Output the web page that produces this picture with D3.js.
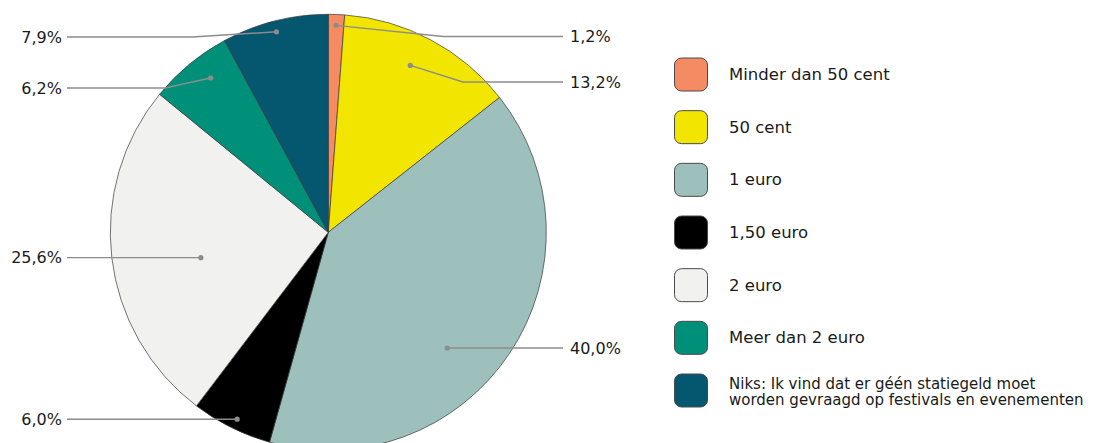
<!DOCTYPE html>
<html>
<head>
<meta charset="utf-8">
<script src="https://cdn.jsdelivr.net/npm/d3@7"></script>
<style>
  html, body { margin: 0; padding: 0; background: #fff; }
  svg { display: block; }
  text { font-family: "DejaVu Sans", Verdana, sans-serif; fill: #1a1a1a; }
</style>
</head>
<body>
<svg id="chart" width="1100" height="443"></svg>
<script>
// Statiegeld op bekers: verdeling van de antwoorden (procenten)
const categories = [
  "Minder dan 50 cent",
  "50 cent",
  "1 euro",
  "1,50 euro",
  "2 euro",
  "Meer dan 2 euro",
  "Niks: Ik vind dat er géén statiegeld moet worden gevraagd op festivals en evenementen"
];
const values = [1.2, 13.2, 40.0, 6.0, 25.6, 6.2, 7.9];
const valueLabels = ["1,2%", "13,2%", "40,0%", "6,0%", "25,6%", "6,2%", "7,9%"];
const legendLines = [
  ["Minder dan 50 cent"],
  ["50 cent"],
  ["1 euro"],
  ["1,50 euro"],
  ["2 euro"],
  ["Meer dan 2 euro"],
  ["Niks: Ik vind dat er géén statiegeld moet", "worden gevraagd op festivals en evenementen"]
];
const colors = ["#F48B62", "#F2E600", "#9DC0BC", "#000000", "#F1F1EF", "#009079", "#05566F"];

// Leader layout: position of the anchor dot inside each slice
// (t = fraction along the slice's angle, r = fraction of the radius),
// the label row and the x where the leader bends to horizontal.
const leaderLayout = [
  { t: 0.50, r: 0.95, labelY: 36.5, elbowX: 443 },
  { t: 0.46, r: 0.853, labelY: 82, elbowX: 463 },
  { t: 0.573, r: 0.761, labelY: null, elbowX: null },
  { t: 0.48, r: 0.954, labelY: null, elbowX: null },
  { t: 0.451, r: 0.596, labelY: null, elbowX: null },
  { t: 0.60, r: 0.89, labelY: 88, elbowX: 165 },
  { t: 0.49, r: 0.95, labelY: 37, elbowX: 192 }
];

const svg = d3.select("#chart");
const cx = 328.3, cy = 232.3, R = 218;
const leftLineX = 67, leftTextX = 62, rightLineX = 563, rightTextX = 570;

const data = categories.map((c, i) => ({ category: c, value: values[i], i }));

const pie = d3.pie().sort(null).value(d => d.value).startAngle(0).endAngle(2 * Math.PI);
const arcs = pie(data);
const arc = d3.arc().innerRadius(0).outerRadius(R);

const g = svg.append("g").attr("transform", `translate(${cx},${cy})`);

g.selectAll("path.slice")
  .data(arcs)
  .join("path")
  .attr("class", "slice")
  .attr("d", arc)
  .attr("fill", d => colors[d.data.i])
  .attr("stroke", "#3a3a3a")
  .attr("stroke-width", 0.7)
  .attr("stroke-linejoin", "round");

// Leader lines and value labels
const leaders = svg.append("g");
arcs.forEach(a => {
  const L = leaderLayout[a.data.i];
  const ang = a.startAngle + L.t * (a.endAngle - a.startAngle);
  const px = cx + Math.sin(ang) * R * L.r;
  const py = cy - Math.cos(ang) * R * L.r;
  const right = Math.sin(ang) >= 0;
  const ly = L.labelY == null ? py : L.labelY;
  const ex = L.elbowX == null ? px : L.elbowX;
  const endX = right ? rightLineX : leftLineX;
  leaders.append("path")
    .attr("d", `M${px},${py}L${ex},${ly}L${endX},${ly}`)
    .attr("fill", "none")
    .attr("stroke", "#8c8c8c")
    .attr("stroke-width", 1.4);
  leaders.append("circle")
    .attr("cx", px).attr("cy", py).attr("r", 2.6)
    .attr("fill", "#8c8c8c");
  leaders.append("text")
    .attr("x", right ? rightTextX : leftTextX)
    .attr("y", ly)
    .attr("dy", "0.36em")
    .attr("text-anchor", right ? "start" : "end")
    .style("font-size", "16px")
    .text(valueLabels[a.data.i]);
});

// Legend
const legendY = d3.scalePoint().domain(d3.range(categories.length)).range([74.5, 390.5]);
const legend = svg.append("g");
const items = legend.selectAll("g.item")
  .data(data)
  .join("g")
  .attr("class", "item")
  .attr("transform", d => `translate(0,${legendY(d.i)})`);

items.append("rect")
  .attr("x", 674.5).attr("y", -16.5)
  .attr("width", 33).attr("height", 33)
  .attr("rx", 7).attr("ry", 7)
  .attr("fill", d => colors[d.i])
  .attr("stroke", "#4a4a4a")
  .attr("stroke-width", 1);

items.each(function (d) {
  const lines = legendLines[d.i];
  const multi = lines.length > 1;
  const t = d3.select(this).append("text")
    .attr("x", 729)
    .style("font-size", multi ? "15px" : "16.5px");
  lines.forEach((ln, k) => {
    t.append("tspan")
      .attr("x", 729)
      // single lines sit centred on the swatch; the two-line label starts just above its centre
      .attr("y", multi ? -2 + k * 16 : 5.6)
      .text(ln);
  });
});
</script>
</body>
</html>
